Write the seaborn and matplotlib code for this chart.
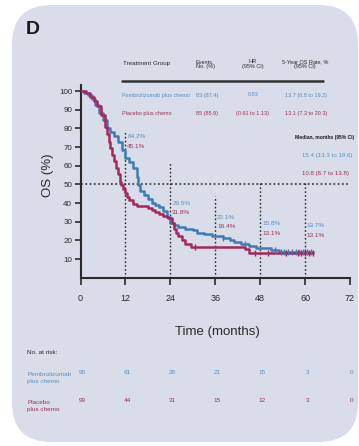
import numpy as np
import pandas as pd
import matplotlib
matplotlib.use("Agg")
import matplotlib.pyplot as plt
from matplotlib.patches import FancyBboxPatch
import seaborn as sns

# Kaplan-Meier step data (months, % alive)
pembro_t = [0, 1, 2, 3, 4, 5, 6, 7, 8, 9, 10, 11, 11.8, 12, 13, 14, 15, 15.4, 16, 17,
            18, 19, 20, 21, 22, 23, 24, 25, 26, 28, 30, 31, 33, 35, 38, 40, 41, 43,
            45, 47, 51, 53, 62]
pembro_s = [100, 99, 97.9, 95.8, 92.6, 88.4, 84.2, 80, 77.9, 75.8, 72.6, 68.4, 66.3,
            64.2, 62.1, 58.9, 53.7, 49.5, 46.3, 44.2, 42.1, 40, 38.9, 37.9, 35.8, 32.6,
            29.5, 28.4, 27.4, 26.3, 25.3, 24.2, 23.2, 22.1, 21.1, 20, 18.9, 17.9, 16.8,
            15.8, 14.7, 13.7, 13.7]
placebo_t = [0, 1.5, 2.5, 3.5, 4.5, 5.5, 6.5, 7, 7.5, 8, 8.5, 9, 9.5, 10, 10.5, 10.8,
             11.3, 12, 12.5, 13, 14, 15, 18, 19, 20, 21, 22, 23, 23.5, 24.5, 25, 25.5,
             26, 27, 28, 29.5, 44, 45, 62]
placebo_s = [100, 99, 97, 94.9, 91.9, 86.9, 80.8, 76.8, 72.7, 69.7, 65.7, 62.6, 58.6,
             55.6, 51.5, 49.5, 47.5, 45.1, 43.4, 41.4, 39.4, 38.4, 37.4, 36.4, 35.4, 34.3,
             33.3, 32.3, 31.8, 29.3, 26.3, 24.2, 22.2, 20.2, 18.2, 16.4, 15.2, 13.1, 13.1]

# Censoring times
pembro_cens = [38, 44, 52, 53.5, 54.5, 55.5, 56.5, 57.5, 58.5, 59.5, 60.5, 61.5]
placebo_cens = [30.5, 46.5, 50, 55, 58, 59, 60, 61, 62]

groups = ["Pembrolizumab plus chemo", "Placebo plus chemo"]
landmarks = [12, 24, 36, 48, 60]
pembro_lm = ["64.2%", "29.5%", "22.1%", "15.8%", "13.7%"]
placebo_lm = ["45.1%", "31.8%", "16.4%", "13.1%", "13.1%"]

x_ticks = [0, 12, 24, 36, 48, 60, 72]
y_ticks = [10, 20, 30, 40, 50, 60, 70, 80, 90, 100]
at_risk_pembro = [95, 61, 28, 21, 15, 3, 0]
at_risk_placebo = [99, 44, 31, 15, 12, 3, 0]

table_events = ["83 (87.4)", "85 (85.9)"]
table_hr = ["0.83", "(0.61 to 1.13)"]
table_rate = ["13.7 (6.8 to 19.2)", "13.1 (7.3 to 20.3)"]
median_text = ["15.4 (13.3 to 19.6)", "10.8 (8.7 to 13.8)"]

BLUE = "#3d7db5"
RED = "#a6285a"
BLUE_TXT = "#5a8fbf"
RED_TXT = "#9e3358"
PANEL = "#d9dce9"
INK = "#2a2a2a"

sns.set_style("ticks")
plt.rcParams["font.family"] = ["Liberation Sans", "DejaVu Sans"]

W, H = 359, 446
fig = plt.figure(figsize=(W / 100, H / 100), dpi=100)
fig.patch.set_facecolor("white")


def fx(x):
    return x / W


def fy(y):
    return 1 - y / H


# rounded panel background
panel = FancyBboxPatch((fx(12), fy(442)), fx(346), (437) / H,
                       boxstyle="round,pad=0,rounding_size=0.11",
                       transform=fig.transFigure, facecolor=PANEL,
                       edgecolor="none", mutation_aspect=W / H, zorder=-5)
fig.patches.append(panel)

x0, x72 = 80.5, 350.0
y0, ytop_val = 277.7, 103
px_per = 1.867
ytop = y0 - ytop_val * px_per
ax = fig.add_axes([fx(x0), fy(y0), (x72 - x0) / W, (y0 - ytop) / H])
ax.set_facecolor("none")
ax.set_zorder(2)

df = pd.concat([
    pd.DataFrame({"time": pembro_t, "surv": pembro_s, "group": groups[0]}),
    pd.DataFrame({"time": placebo_t, "surv": placebo_s, "group": groups[1]}),
])
sns.lineplot(data=df, x="time", y="surv", hue="group", estimator=None,
             palette={groups[0]: BLUE, groups[1]: RED}, drawstyle="steps-post",
             linewidth=1.8, legend=False, ax=ax, zorder=4)


def surv_at(ts, ss, t):
    idx = np.searchsorted(ts, t, side="right") - 1
    return ss[idx]


ax.plot(pembro_cens, [surv_at(pembro_t, pembro_s, t) for t in pembro_cens],
        linestyle="none", marker="|", markersize=4, color=BLUE, mew=1, zorder=5)
ax.plot(placebo_cens, [surv_at(placebo_t, placebo_s, t) for t in placebo_cens],
        linestyle="none", marker="|", markersize=4, color=RED, mew=1, zorder=5)

# reference lines
dot = (0, (1.2, 1.6))
ax.plot([0, 71.5], [50, 50], color=INK, lw=1.1, ls=dot, zorder=2)
line_tops = [78, 62, 44, 51, 51]
for t, top in zip(landmarks, line_tops):
    ax.plot([t, t], [0, top], color=INK, lw=1.0, ls=dot, zorder=2)

# landmark survival labels
lm_y_top = [75.4, 40.0, 32.4, 28.8, 27.7]
for t, yt, bl, rl in zip(landmarks, lm_y_top, pembro_lm, placebo_lm):
    ax.text(t + 0.5, yt, bl, color=BLUE_TXT, fontsize=4.6, va="center", ha="left")
    ax.text(t + 0.5, yt - 5.0, rl, color=RED_TXT, fontsize=4.6, va="center", ha="left")

ax.set_xlim(0, 72)
ax.set_ylim(0, ytop_val)
ax.set_xticks(x_ticks)
ax.set_xticklabels([str(v) for v in x_ticks], fontsize=6.5, color=INK)
ax.set_yticks(y_ticks)
ax.set_yticklabels([str(v) for v in y_ticks], fontsize=5.8, color=INK)
ax.tick_params(axis="x", direction="out", length=5, width=1.2, pad=7, color=INK)
ax.tick_params(axis="y", direction="out", length=4, width=1.2, pad=2, color=INK)
for s in ["top", "right"]:
    ax.spines[s].set_visible(False)
for s in ["left", "bottom"]:
    ax.spines[s].set_linewidth(1.5)
    ax.spines[s].set_color(INK)
ax.set_xlabel("")
ax.set_ylabel("")

fig.text(fx(217), fy(332), "Time (months)", fontsize=9.5, ha="center",
         va="center", color=INK)
fig.text(fx(48), fy(175), "OS (%)", fontsize=9.5, ha="center", va="center",
         rotation=90, color=INK)
fig.text(fx(26), fy(30), "D", fontsize=14, fontweight="bold", ha="left",
         va="center", color="#1a1a1a")

# summary table
tfs = 4.0
fig.text(fx(123), fy(64), "Treatment Group", fontsize=4.5, ha="left",
         va="center", color=INK)
fig.text(fx(205), fy(64), "Events,\nNo. (%)", fontsize=tfs, ha="center",
         va="center", color=INK, linespacing=1.1)
fig.text(fx(253), fy(64), "HR\n(95% CI)", fontsize=tfs, ha="center",
         va="center", color=INK, linespacing=1.1)
fig.text(fx(305), fy(64), "5-Year OS Rate, %\n(95% CI)", fontsize=tfs,
         ha="center", va="center", color=INK, linespacing=1.1)
fig.add_artist(plt.Line2D([fx(122), fx(323)], [fy(81), fy(81)], lw=1.8,
                          color="#333333", transform=fig.transFigure))
for i, (g, c) in enumerate(zip(groups, [BLUE_TXT, RED_TXT])):
    yy = 95 + i * 18
    fig.text(fx(122), fy(yy), g, fontsize=tfs, ha="left", va="center", color=c)
    fig.text(fx(207), fy(yy), table_events[i], fontsize=tfs, ha="center",
             va="center", color=c)
    fig.text(fx(253), fy(yy), table_hr[i], fontsize=tfs, ha="center",
             va="center", color=c)
    fig.text(fx(306), fy(yy), table_rate[i], fontsize=tfs, ha="center",
             va="center", color=c)

# medians
fig.text(fx(295), fy(137), "Median, months (95% CI)", fontsize=3.6, ha="left",
         va="center", color="#1a1a1a", fontweight="bold")
fig.text(fx(302), fy(156), median_text[0], fontsize=4.4, ha="left", va="center",
         color=BLUE_TXT)
fig.text(fx(302), fy(174), median_text[1], fontsize=4.4, ha="left", va="center",
         color=RED_TXT)

# number at risk
fig.text(fx(27), fy(352), "No. at risk:", fontsize=4.6, ha="left", va="center",
         color=INK)
fig.text(fx(27), fy(378), "Pembrolizumab\nplus chemo", fontsize=4.6, ha="left",
         va="center", color=BLUE_TXT, linespacing=1.3)
fig.text(fx(27), fy(406), "Placebo\nplus chemo", fontsize=4.6, ha="left",
         va="center", color=RED_TXT, linespacing=1.3)
for t, a, b in zip(x_ticks, at_risk_pembro, at_risk_placebo):
    xp = x0 + t * (x72 - x0) / 72 + 2
    fig.text(fx(xp), fy(373), str(a), fontsize=4.6, ha="center", va="center",
             color=BLUE_TXT)
    fig.text(fx(xp), fy(401), str(b), fontsize=4.6, ha="center", va="center",
             color=RED_TXT)

fig.savefig("out.png", dpi=100)
